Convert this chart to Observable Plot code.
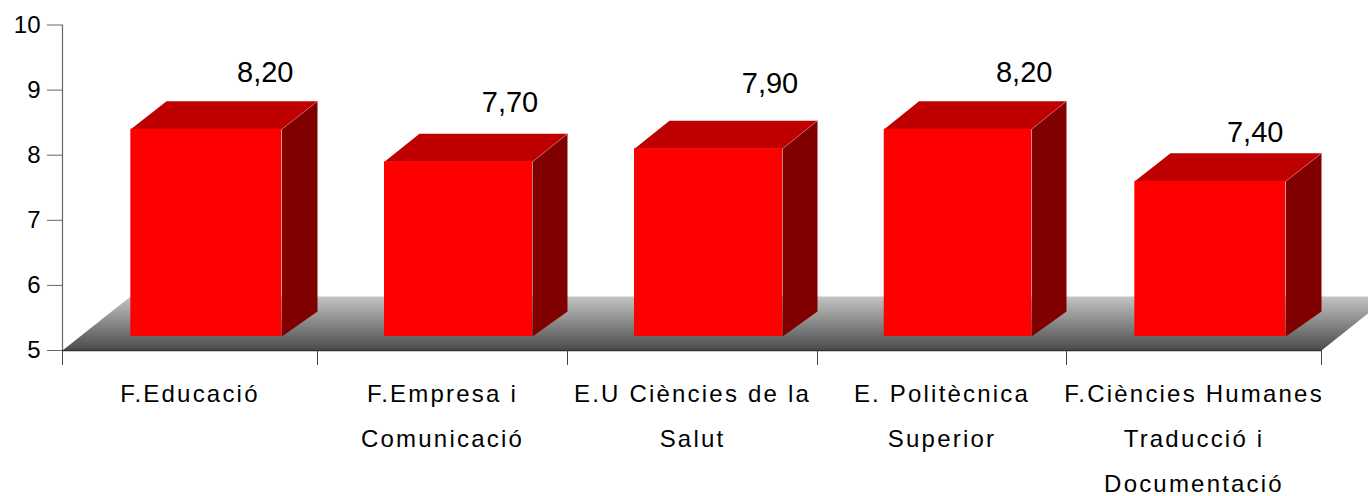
<!DOCTYPE html>
<html>
<head>
<meta charset="utf-8">
<script src="https://cdn.jsdelivr.net/npm/d3@7"></script>
<script src="https://cdn.jsdelivr.net/npm/@observablehq/plot@0.6"></script>
<style>
html,body{margin:0;padding:0;background:#fff;overflow:hidden}
.xlabels text{letter-spacing:2.2px}
</style>
</head>
<body>
<div id="chart"></div>
<script>
// Data
const categories = [
  "F.Educació",
  "F.Empresa i\nComunicació",
  "E.U Ciències de la\nSalut",
  "E. Politècnica\nSuperior",
  "F.Ciències Humanes\nTraducció i\nDocumentació"
];
const values = [8.2, 7.7, 7.9, 8.2, 7.4];
const valueLabels = ["8,20", "7,70", "7,90", "8,20", "7,40"];
const yTicks = [5, 6, 7, 8, 9, 10];

// Layout of the fake 3D box, in scale units
const slots = [0, 1, 2, 3, 4, 5];
const slotPixels = [62, 317, 567, 817, 1066, 1321];
const barLeft = 0.268, barRight = 0.86, barBack = 1.0;
const baseFront = 5.215, baseBack = 5.6, topFront = 0.2, topBack = 0.63;
const floorBack = 5.83, floorShift = 0.267;
const labelShiftX = [0.795, 0.77, 0.81, 0.83, 0.74];
const labelShiftY = [0.93, 0.97, 1.06, 0.93, 0.81];

const bars = values.map((v, i) => ({i, v, label: valueLabels[i], name: categories[i]}));
const face = (pts) => bars.flatMap(b => pts(b).map(([x, y]) => ({x, y, z: b.i})));
const sideFace = face(b => [
  [b.i + barRight, baseFront], [b.i + barBack, baseBack],
  [b.i + barBack, b.v + topBack], [b.i + barRight, b.v + topFront]
]);
const topFace = face(b => [
  [b.i + barLeft, b.v + topFront], [b.i + barRight, b.v + topFront],
  [b.i + barBack, b.v + topBack], [b.i + barLeft + barBack - barRight, b.v + topBack]
]);
const ridge = face(b => [
  [b.i + barRight, b.v + topFront], [b.i + barBack, b.v + topBack]
]);
const floor = [
  {x: 0, y: 5}, {x: 5, y: 5},
  {x: 5 + floorShift, y: floorBack}, {x: floorShift, y: floorBack}
];

const chart = Plot.plot({
  width: 1368,
  height: 496,
  marginLeft: 62,
  marginRight: 47,
  marginTop: 24.5,
  marginBottom: 146,
  style: {fontFamily: "'Liberation Sans', Arial, sans-serif", background: "#fff", color: "#000"},
  x: {type: "linear", domain: slots, range: slotPixels},
  y: {domain: [5, 10]},
  marks: [
    () => {
      const defs = d3.create("svg:defs");
      const g = defs.append("linearGradient")
        .attr("id", "floorGrad").attr("x1", 0).attr("x2", 0).attr("y1", 0).attr("y2", 1);
      g.append("stop").attr("offset", "0%").attr("stop-color", "#c4c4c4");
      g.append("stop").attr("offset", "100%").attr("stop-color", "#4a4a4a");
      return defs.node();
    },
    Plot.line(floor, {x: "x", y: "y", fill: "url(#floorGrad)", stroke: "none"}),
    Plot.ruleX([0], {y1: 5, y2: 10, stroke: "#666", strokeWidth: 1.2, strokeOpacity: 1}),
    Plot.ruleY([5], {x1: 0, x2: 5, stroke: "#333", strokeWidth: 1.6, strokeOpacity: 1}),
    Plot.axisY({ticks: yTicks, tickSize: 15, tickPadding: 7, label: null, fontSize: 24,
      stroke: "#666", strokeOpacity: 1, tickFormat: d => d, fill: "#000"}),
    Plot.axisX({ticks: slots, tickSize: 15, label: null, fill: "none",
      stroke: "#444", strokeOpacity: 1}),
    Plot.line(sideFace, {x: "x", y: "y", z: "z", fill: "#800000", stroke: "none"}),
    Plot.line(topFace, {x: "x", y: "y", z: "z", fill: "#bf0000", stroke: "none"}),
    Plot.rect(bars, {
      x1: d => d.i + barLeft, x2: d => d.i + barRight,
      y1: baseFront, y2: d => d.v + topFront, fill: "#ff0000"
    }),
    Plot.line(ridge, {x: "x", y: "y", z: "z", stroke: "#d96a6a", strokeWidth: 0.7}),
    Plot.text(bars, {
      x: d => d.i + labelShiftX[d.i], y: d => d.v + labelShiftY[d.i],
      text: "label", lineAnchor: "bottom", fontSize: 29, fill: "#000"
    }),
    Plot.text(bars, {
      x: d => d.i + 0.5, y: 5, dy: 20, text: "name", lineAnchor: "top",
      fontSize: 24, lineHeight: 45 / 24, fill: "#000", className: "xlabels"
    })
  ]
});
document.getElementById("chart").appendChild(chart);
</script>
</body>
</html>
